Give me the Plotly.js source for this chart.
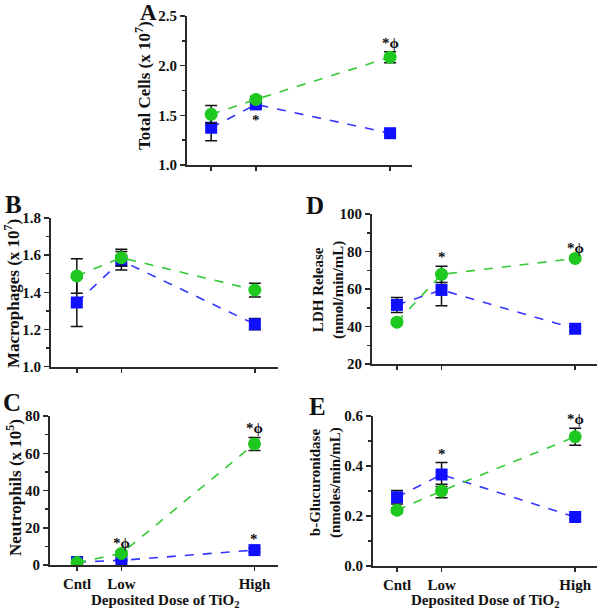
<!DOCTYPE html>
<html>
<head>
<meta charset="utf-8">
<script src="https://cdn.plot.ly/plotly-3.0.1.min.js"></script>
<style>
  body { margin: 0; background: #fff; }
  #plot { width: 600px; height: 610px; }
</style>
</head>
<body>
<div id="plot"></div>
<script>
// dose groups
var doseLabels = ["Cntl", "Low", "High"];
var doseLevel = [0, 1, 4];

// A - total cells (x 10^7)
var totalBlue = [1.375, 1.61, 1.32];
var totalBlueErr = [0.13, 0.03, 0.02];
var totalGreen = [1.51, 1.66, 2.085];
var totalGreenErr = [0.09, 0.03, 0.055];

// B - macrophages (x 10^7)
var macroBlue = [1.345, 1.57, 1.228];
var macroBlueErr = [0.13, 0.05, 0.03];
var macroGreen = [1.488, 1.586, 1.412];
var macroGreenErr = [0.093, 0.045, 0.037];

// C - neutrophils (x 10^5)
var neutBlue = [1.6, 2.5, 8.0];
var neutBlueErr = [0.5, 0.5, 1.0];
var neutGreen = [1.3, 6.2, 65.0];
var neutGreenErr = [0.3, 1.0, 3.5];

// D - LDH release
var ldhBlue = [51.5, 59.5, 38.8];
var ldhBlueErr = [4, 8.5, 1];
var ldhGreen = [42.3, 67.8, 76.3];
var ldhGreenErr = [1, 4.3, 1];

// E - b-glucuronidase
var glucBlue = [0.275, 0.366, 0.196];
var glucBlueErr = [0.027, 0.048, 0.01];
var glucGreen = [0.223, 0.30, 0.517];
var glucGreenErr = [0.01, 0.027, 0.034];

// significance marks (per dose group)
var sigA_blue = ["", "*", ""];
var sigA_green = ["", "", "*ϕ"];
var sigC_blue = ["", "", "*"];
var sigC_green = ["", "*ϕ", "*ϕ"];
var sigD_green = ["", "*", "*ϕ"];
var sigE_blue = ["", "*", ""];
var sigE_green = ["", "", "*ϕ"];

var SERIF = "Liberation Serif";
var BLUE = "#1010ff";
var GREEN = "#1ec81e";
var AXC = "#2a2a2a";

function bold(t) { return "<b>" + t + "</b>"; }

var data = [];
var layout = {
  width: 600, height: 610,
  margin: {l: 0, r: 0, t: 0, b: 0},
  paper_bgcolor: "#fff", plot_bgcolor: "#fff",
  showlegend: false,
  font: {family: SERIF, color: "#111"},
  annotations: []
};

function px2x(p) { return p / 600; }
function px2y(p) { return 1 - p / 610; }

function addPanel(n, blue, blueErr, green, greenErr, opts) {
  var xa = "x" + (n === 1 ? "" : n), ya = "y" + (n === 1 ? "" : n);
  data.push({
    x: doseLevel, y: blue, xaxis: xa, yaxis: ya, type: "scatter", mode: "lines+markers",
    line: {color: "#3535ff", dash: "dash", width: 1.6},
    marker: {symbol: "square", size: 12, color: BLUE},
    error_y: {type: "data", array: blueErr, color: "#111", thickness: 1.5, width: 6}
  });
  data.push({
    x: doseLevel, y: green, xaxis: xa, yaxis: ya, type: "scatter", mode: "lines+markers",
    line: {color: "#35c835", dash: "dash", width: 1.6},
    marker: {symbol: "circle", size: 13, color: GREEN},
    error_y: {type: "data", array: greenErr, color: "#111", thickness: 1.5, width: 6}
  });
  layout["xaxis" + (n === 1 ? "" : n)] = {
    domain: opts.dx, anchor: ya, range: opts.xr,
    tickvals: doseLevel, ticktext: doseLabels.map(bold), showticklabels: !!opts.xtitleX,
    ticks: "outside", ticklen: 4, tickwidth: 1.5, tickcolor: AXC,
    showline: true, linewidth: 2, linecolor: AXC, showgrid: false, zeroline: false,
    tickfont: {family: SERIF, size: 15, color: "#111"}
  };
  layout["yaxis" + (n === 1 ? "" : n)] = {
    domain: opts.dy, anchor: xa, range: opts.yr, dtick: opts.dtick, tick0: 0,
    tickformat: opts.fmt, tickprefix: "<b>", ticksuffix: "</b>",
    ticks: "outside", ticklen: 5, tickwidth: 1.5, tickcolor: AXC,
    minor: {ticks: "outside", ticklen: 3, tickwidth: 1.5, tickcolor: AXC, dtick: opts.dtick / 2, showgrid: false},
    showline: true, linewidth: 2, linecolor: AXC, showgrid: false, zeroline: false,
    tickfont: {family: SERIF, size: 15, color: "#111"}
  };
  // y title and panel letter
  layout.annotations.push({
    xref: "paper", yref: "paper", x: px2x(opts.tx), y: px2y(opts.ty),
    xanchor: "center", yanchor: "middle",
    text: bold(opts.title), textangle: -90, showarrow: false,
    font: {family: SERIF, size: opts.tsize, color: "#111"}
  });
  layout.annotations.push({
    xref: "paper", yref: "paper", x: px2x(opts.lx), y: px2y(opts.ly),
    xanchor: "center", yanchor: "middle",
    text: bold(opts.letter), showarrow: false,
    font: {family: SERIF, size: opts.lsize || 25, color: "#111"}
  });
  if (opts.xtitleX) {
    layout.annotations.push({
      xref: "paper", yref: "paper", x: px2x(opts.xtitleX), y: px2y(601),
      xanchor: "center", yanchor: "middle",
      text: bold("Deposited Dose of TiO<sub>2</sub>"), showarrow: false,
      font: {family: SERIF, size: 15, color: "#111"}
    });
  }
  // significance marks
  function marks(arr, vals, errs, above) {
    if (!arr) return;
    arr.forEach(function(t, i) {
      if (!t) return;
      layout.annotations.push({
        xref: xa, yref: ya, x: doseLevel[i], xanchor: "center",
        y: above ? vals[i] + errs[i] : vals[i],
        yanchor: above ? "bottom" : "top", yshift: above ? -1 : -6,
        text: bold(t), showarrow: false,
        font: {family: SERIF, size: 15, color: "#111"}
      });
    });
  }
  marks(opts.sigBlue, blue, blueErr, opts.blueAbove);
  marks(opts.sigGreen, green, greenErr, true);
}

addPanel(1, totalBlue, totalBlueErr, totalGreen, totalGreenErr, {
  dx: [px2x(187), px2x(412)], dy: [px2y(165), px2y(16)], xr: [-0.54, 4.49],
  yr: [1.0, 2.5], dtick: 0.5, fmt: ".1f",
  title: "Total Cells (x 10<sup>7</sup>)", tsize: 17, tx: 143, ty: 86,
  letter: "A", lsize: 23, lx: 148, ly: 13,
  sigBlue: sigA_blue, blueAbove: false, sigGreen: sigA_green
});
addPanel(2, macroBlue, macroBlueErr, macroGreen, macroGreenErr, {
  dx: [px2x(51), px2x(278)], dy: [px2y(366.5), px2y(218)], xr: [-0.58, 4.52],
  yr: [1.0, 1.8], dtick: 0.2, fmt: ".1f",
  title: "Macrophages (x 10<sup>7</sup>)", tsize: 17, tx: 12, ty: 294, letter: "B", lx: 13, ly: 204
});
addPanel(3, neutBlue, neutBlueErr, neutGreen, neutGreenErr, {
  dx: [px2x(50), px2x(278)], dy: [px2y(565), px2y(416)], xr: [-0.61, 4.53],
  yr: [0, 80], dtick: 20, fmt: "d", xtitleX: 165,
  title: "Neutrophils (x 10<sup>5</sup>)", tsize: 17, tx: 14, ty: 488, letter: "C", lx: 12, ly: 402,
  sigBlue: sigC_blue, blueAbove: true, sigGreen: sigC_green
});
addPanel(4, ldhBlue, ldhBlueErr, ldhGreen, ldhGreenErr, {
  dx: [px2x(372), px2x(597)], dy: [px2y(364), px2y(214)], xr: [-0.56, 4.49],
  yr: [20, 100], dtick: 20, fmt: "d",
  title: "LDH Release<br>(nmol/min/mL)", tsize: 15, tx: 328, ty: 290, letter: "D", lx: 315, ly: 205,
  sigGreen: sigD_green
});
addPanel(5, glucBlue, glucBlueErr, glucGreen, glucGreenErr, {
  dx: [px2x(373), px2x(597)], dy: [px2y(566), px2y(416)], xr: [-0.54, 4.49],
  yr: [0, 0.6], dtick: 0.2, fmt: ".1f", xtitleX: 485,
  title: "b-Glucuronidase<br>(nmoles/min/mL)", tsize: 15, tx: 325, ty: 483, letter: "E", lx: 317, ly: 406,
  sigBlue: sigE_blue, blueAbove: true, sigGreen: sigE_green
});

Plotly.newPlot("plot", data, layout, {staticPlot: true});
</script>
</body>
</html>
